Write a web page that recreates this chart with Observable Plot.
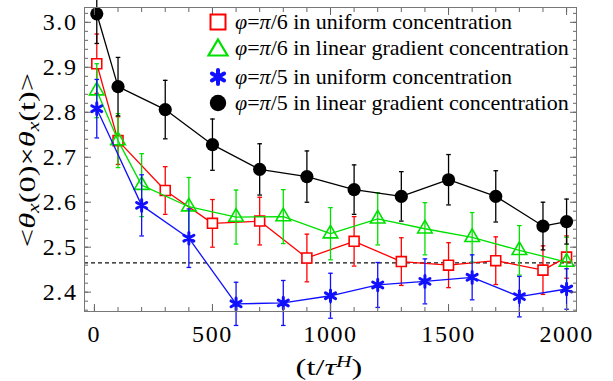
<!DOCTYPE html>
<html><head><meta charset="utf-8">
<script src="https://cdn.jsdelivr.net/npm/d3@7"></script>
<script src="https://cdn.jsdelivr.net/npm/@observablehq/plot@0.6"></script>
<style>
body{margin:0;background:#fff;}
#wrap{position:relative;width:613px;height:381px;font-family:'Liberation Serif',serif;color:#000;overflow:hidden;}
#wrap svg text{font-family:'Liberation Serif',serif !important;}
.leg{position:absolute;left:206px;height:27px;display:flex;align-items:center;font-size:22px;white-space:nowrap;font-family:'Liberation Serif',serif;}
.leg svg{width:24px;height:24px;margin-right:5px;overflow:visible;}
#xlab{position:absolute;left:329px;top:355px;font-size:24px;line-height:24px;white-space:nowrap;transform:translateX(-50%) scaleX(1.35);font-family:'Liberation Serif',serif;}
#ylab{position:absolute;left:27px;top:160px;font-size:24px;line-height:24px;white-space:nowrap;transform:translate(-50%,-50%) rotate(-90deg) scaleX(1.35);font-family:'Liberation Serif',serif;}
sub,sup{font-size:16px;line-height:0;}
sup{vertical-align:0.5em;}
sub{vertical-align:-0.25em;}
</style></head><body><div id="wrap"></div>
<script>
// phi = pi/6, uniform concentration (red squares)
const tRed   = [10, 100, 300, 500, 700, 900, 1100, 1300, 1500, 1700, 1900, 2000];
const vRed   = [2.908, 2.737, 2.626, 2.553, 2.558, 2.476, 2.513, 2.468, 2.460, 2.470, 2.449, 2.478];
const eRed   = [0.066, 0.053, 0.053, 0.053, 0.053, 0.053, 0.055, 0.053, 0.050, 0.053, 0.054, 0.047];
// phi = pi/6, linear gradient concentration (green triangles)
const tGreen = [10, 100, 200, 400, 600, 800, 1000, 1200, 1400, 1600, 1800, 2000];
const vGreen = [2.848, 2.737, 2.638, 2.590, 2.567, 2.568, 2.530, 2.563, 2.541, 2.522, 2.493, 2.467];
const eGreen = [0.060, 0.060, 0.070, 0.065, 0.060, 0.060, 0.058, 0.058, 0.058, 0.055, 0.055, 0.055];
// phi = pi/5, uniform concentration (blue asterisks)
const tBlue  = [10, 200, 400, 600, 800, 1000, 1200, 1400, 1600, 1800, 2000];
const vBlue  = [2.808, 2.593, 2.520, 2.374, 2.376, 2.392, 2.416, 2.424, 2.433, 2.390, 2.407];
const eBlue  = [0.065, 0.068, 0.065, 0.048, 0.050, 0.050, 0.050, 0.050, 0.050, 0.045, 0.045];
// phi = pi/5, linear gradient concentration (black circles)
const tBlack = [10, 100, 300, 500, 700, 900, 1100, 1300, 1500, 1700, 1900, 2000];
const vBlack = [3.019, 2.857, 2.806, 2.728, 2.673, 2.657, 2.628, 2.613, 2.650, 2.613, 2.547, 2.557];
const eBlack = [0.066, 0.065, 0.065, 0.057, 0.057, 0.057, 0.055, 0.055, 0.056, 0.057, 0.053, 0.050];

const reference = [2.465];
const xMajor = [0, 500, 1000, 1500, 2000];
const yMajor = [2.4, 2.5, 2.6, 2.7, 2.8, 2.9, 3.0];

const colors = {red: "#ff0000", green: "#00e000", blue: "#1010ff", black: "#000000"};

const mk = (t, v, e) => t.map((x, i) => ({t: x, v: v[i], lo: v[i] - e[i], hi: v[i] + e[i]}));
const series = [
  {d: mk(tRed, vRed, eRed), c: colors.red, sym: "square", r: 5.6, fill: "white", sw: 1.6},
  {d: mk(tGreen, vGreen, eGreen), c: colors.green, sym: "triangle", r: 5.4, fill: "none", sw: 1.6},
  {d: mk(tBlue, vBlue, eBlue), c: colors.blue, sym: "asterisk", r: 5.5, fill: "none", sw: 3},
  {d: mk(tBlack, vBlack, eBlack), c: colors.black, sym: "circle", r: 6.6, fill: colors.black, sw: 0}
];

const cap = {draw(ctx, size) { const w = Math.sqrt(size / Math.PI); ctx.moveTo(-w, 0); ctx.lineTo(w, 0); }};

const marks = [];
marks.push(Plot.ruleY(reference, {stroke: "#111", strokeWidth: 1.3, strokeDasharray: "4,3"}));
for (const s of series) {
  marks.push(Plot.ruleX(s.d, {x: "t", y1: "lo", y2: "hi", stroke: s.c, strokeWidth: 1.3}));
  marks.push(Plot.dot(s.d, {x: "t", y: "lo", symbol: cap, r: 2.3, stroke: s.c, strokeWidth: 1.3}));
  marks.push(Plot.dot(s.d, {x: "t", y: "hi", symbol: cap, r: 2.3, stroke: s.c, strokeWidth: 1.3}));
  marks.push(Plot.line(s.d, {x: "t", y: "v", stroke: s.c, strokeWidth: 1.3}));
  if (s.sym === "circle") {
    marks.push(Plot.dot(s.d, {x: "t", y: "v", r: s.r, fill: s.c, stroke: "none"}));
  } else if (s.sym === "asterisk") {
    marks.push(Plot.dot(s.d, {x: "t", y: "v", symbol: "asterisk", r: s.r, stroke: s.c, strokeWidth: s.sw, strokeLinecap: "round"}));
  } else {
    marks.push(Plot.dot(s.d, {x: "t", y: "v", symbol: s.sym, r: s.r, fill: s.fill, stroke: s.c, strokeWidth: s.sw}));
  }
}
const tickCol = "#666";
const none = () => "";
const ff = "Liberation Serif";
// ticks (inward) on all four sides
for (const anchor of ["bottom", "top"]) {
  marks.push(Plot.axisX({anchor, ticks: d3.range(0, 2001, 100), tickSize: -4, tickFormat: none, label: null, stroke: tickCol}));
  marks.push(Plot.axisX({anchor, ticks: xMajor, tickSize: -7, tickFormat: none, label: null, stroke: tickCol}));
}
for (const anchor of ["left", "right"]) {
  marks.push(Plot.axisY({anchor, ticks: d3.range(2.36, 3.031, 0.02), tickSize: -4, tickFormat: none, label: null, stroke: tickCol}));
  marks.push(Plot.axisY({anchor, ticks: yMajor, tickSize: -7, tickFormat: none, label: null, stroke: tickCol}));
}
marks.push(Plot.axisX({anchor: "bottom", ticks: xMajor, tickSize: 0, tickPadding: 13, tickFormat: d3.format("d"), label: null, fontSize: 24, fontFamily: ff, fill: "#000"}));
marks.push(Plot.axisY({anchor: "left", ticks: yMajor, tickSize: 0, tickPadding: 7, tickFormat: d3.format(".1f"), label: null, fontSize: 24, fontFamily: ff, fill: "#000"}));
marks.push(Plot.frame({stroke: "#777", strokeWidth: 1}));

const chart = Plot.plot({
  width: 613, height: 381,
  marginLeft: 84, marginRight: 37, marginTop: 7, marginBottom: 70,
  x: {domain: [-42, 2042]},
  y: {domain: [2.357, 3.033]},
  style: {background: "white", fontFamily: "'Liberation Serif', serif"},
  marks
});
chart.querySelectorAll("text").forEach(t => { t.setAttribute("letter-spacing", "1.6"); t.style.fontFamily = "'Liberation Serif', serif"; });
const wrap = document.getElementById("wrap");
wrap.appendChild(chart);

// legend
const legItems = [
  {m: `<rect x="4.5" y="4.5" width="15" height="15" fill="white" stroke="${colors.red}" stroke-width="2"/>`, txt: `<i>φ</i>=<i>π</i>/6 in uniform concentration`, cy: 21.7},
  {m: `<polygon points="12,3.5 21.5,19.5 2.5,19.5" fill="none" stroke="${colors.green}" stroke-width="2.2"/>`, txt: `<i>φ</i>=<i>π</i>/6 in linear gradient concentration`, cy: 48.3},
  {m: `<g stroke="${colors.blue}" stroke-width="4" stroke-linecap="round"><line x1="12" y1="5" x2="12" y2="19"/><line x1="5.9" y1="8.5" x2="18.1" y2="15.5"/><line x1="5.9" y1="15.5" x2="18.1" y2="8.5"/></g>`, txt: `<i>φ</i>=<i>π</i>/5 in uniform concentration`, cy: 76.7},
  {m: `<circle cx="12" cy="12" r="8.2" fill="#000"/>`, txt: `<i>φ</i>=<i>π</i>/5 in linear gradient concentration`, cy: 103.3}
];
for (const it of legItems) {
  const d = document.createElement("div");
  d.className = "leg";
  d.style.top = (it.cy - 13.5) + "px";
  d.innerHTML = `<svg viewBox="0 0 24 24">${it.m}</svg><span>${it.txt}</span>`;
  wrap.appendChild(d);
}
const xl = document.createElement("div");
xl.id = "xlab";
xl.innerHTML = `(t/<i>τ</i><sup><i>H</i></sup>)`;
wrap.appendChild(xl);
const yl = document.createElement("div");
yl.id = "ylab";
yl.innerHTML = `&lt;<i>θ</i><sub><i>x</i></sub>(0)×<i>θ</i><sub><i>x</i></sub>(t)&gt;`;
wrap.appendChild(yl);
</script>
</body></html>
